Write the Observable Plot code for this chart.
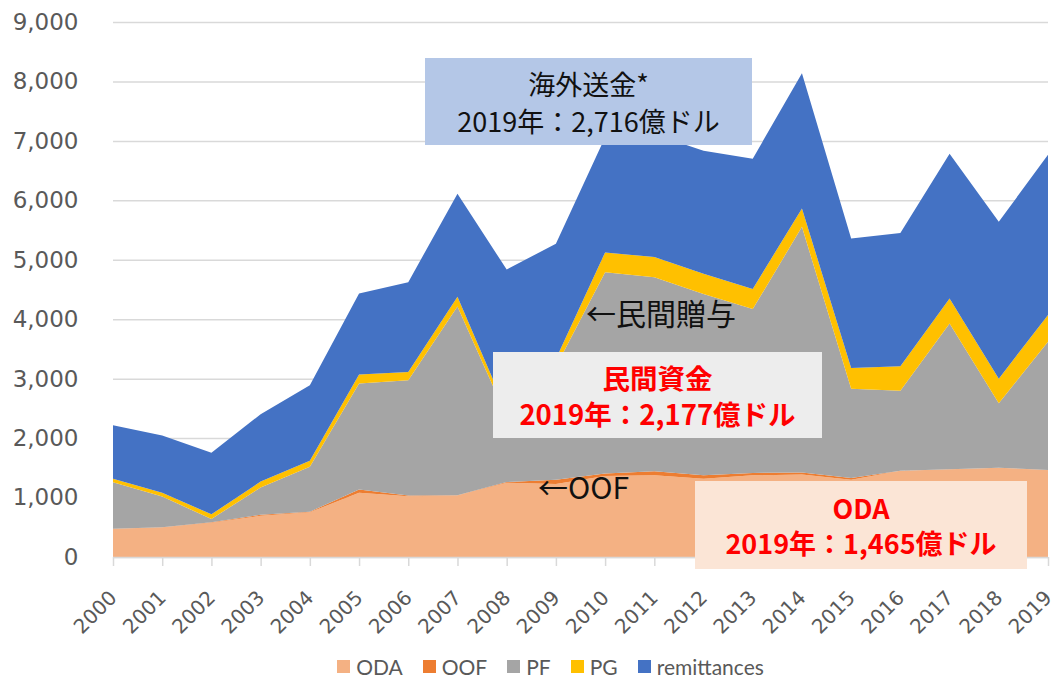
<!DOCTYPE html>
<html><head><meta charset="utf-8">
<script src="https://cdn.jsdelivr.net/npm/d3@7"></script>
<script src="https://cdn.jsdelivr.net/npm/@observablehq/plot@0.6"></script>
<style>
body{margin:0;background:#fff;}
#wrap{position:relative;width:1051px;height:678px;overflow:hidden;background:#fff;}
#chart svg{display:block;}
.box{position:absolute;display:flex;flex-direction:column;justify-content:center;align-items:center;font-family:"Noto Sans CJK JP",sans-serif;white-space:nowrap;}
.note{position:absolute;font-family:"Noto Sans CJK JP",sans-serif;white-space:nowrap;color:#111;}
#legend{position:absolute;left:50px;top:654px;width:1001px;height:24px;display:flex;justify-content:center;align-items:center;font-family:Lato,"Open Sans",sans-serif;font-size:21px;color:#595959;}
#legend .it{display:flex;align-items:center;margin:0 10px;}
#legend .sw{width:13px;height:13px;margin-right:6px;}
</style>
</head><body>
<div id="wrap">
<div id="chart"></div>
<div class="box" style="left:425px;top:58px;width:327px;height:87px;background:#b4c7e7;color:#111;font-size:27px;line-height:37px;">
  <div>海外送金*</div><div>2019年：2,716億ドル</div></div>
<div class="box" style="left:493px;top:352px;width:329px;height:86px;background:#ededed;color:#ff0000;font-weight:bold;font-size:27.5px;line-height:36px;">
  <div>民間資金</div><div>2019年：2,177億ドル</div></div>
<div class="box" style="left:695px;top:481px;width:332px;height:88px;background:#fbe5d6;color:#ff0000;font-weight:bold;font-size:27px;line-height:35px;">
  <div>ODA</div><div>2019年：1,465億ドル</div></div>
<div class="note" style="left:586px;top:292px;font-size:30px;line-height:40px;">←民間贈与</div>
<div class="note" style="left:538px;top:466px;font-size:30px;line-height:40px;">←OOF</div>
<div id="legend"></div>
</div>
<script>
const years = [2000,2001,2002,2003,2004,2005,2006,2007,2008,2009,2010,2011,2012,2013,2014,2015,2016,2017,2018,2019];
const ODA = [470,496,575,693,752,1080,1023,1034,1250,1230,1364,1375,1318,1375,1386,1301,1449,1472,1500,1460];
const OOF = [5,5,10,17,10,56,12,5,11,70,39,68,57,40,34,29,3,3,3,3];
const PF = [781,515,55,460,757,1782,1939,3176,1099,1900,3388,3263,3049,2755,4134,1501,1345,2452,1085,2158];
const PG = [62,66,78,98,101,152,140,165,90,130,333,339,339,340,310,350,412,423,412,452];
const remittances = [897,963,1037,1134,1270,1363,1510,1730,2386,1941,1936,2065,2073,2191,2272,2175,2243,2435,2638,2695];
const seriesNames = ["ODA","OOF","PF","PG","remittances"];
const seriesColors = ["#f4b183","#ed7d31","#a5a5a5","#ffc000","#4472c4"];
const yTicks = [0,1000,2000,3000,4000,5000,6000,7000,8000,9000];

const seriesValues = [ODA, OOF, PF, PG, remittances];
const data = [];
years.forEach((yr, i) => {
  seriesNames.forEach((s, j) => data.push({year: yr, series: s, value: seriesValues[j][i]}));
});

const chart = Plot.plot({
  width: 1051, height: 654,
  marginLeft: 113, marginRight: 3, marginTop: 22, marginBottom: 97,
  style: {fontFamily: "DejaVu Sans, sans-serif", background: "#fff"},
  x: {domain: [2000, 2019]},
  y: {domain: [0, 9000]},
  color: {domain: seriesNames, range: seriesColors},
  marks: [
    Plot.gridY(yTicks, {stroke: "#d9d9d9", strokeOpacity: 1, strokeWidth: 1.5}),
    Plot.areaY(data, {x: "year", y: "value", z: "series", fill: "series", order: seriesNames}),
    Plot.ruleY([0], {stroke: "#d9d9d9", strokeWidth: 1.5}),
    Plot.axisX(years, {tickSize: 9, stroke: "#d9d9d9", strokeWidth: 1.5, text: null, label: null}),
    Plot.axisX(years, {tickSize: 0, tickRotate: -45, tickPadding: 24, dx: 0, dy: 13, fontSize: 20, fill: "#595959", tickFormat: d => String(d), label: null}),
    Plot.axisY(yTicks, {tickSize: 0, tickPadding: 35, fontSize: 23, fill: "#595959", tickFormat: d3.format(","), label: null})
  ]
});
document.getElementById("chart").appendChild(chart);

const legend = document.getElementById("legend");
seriesNames.forEach((s, j) => {
  const it = document.createElement("div"); it.className = "it";
  const sw = document.createElement("div"); sw.className = "sw"; sw.style.background = seriesColors[j];
  const tx = document.createElement("span"); tx.textContent = s;
  it.appendChild(sw); it.appendChild(tx); legend.appendChild(it);
});
</script>
</body></html>
